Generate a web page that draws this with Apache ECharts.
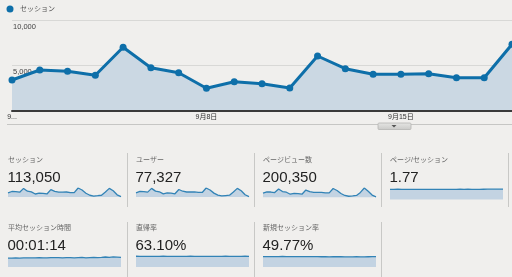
<!DOCTYPE html>
<html><head><meta charset="utf-8">
<script src="https://cdn.jsdelivr.net/npm/echarts@6/dist/echarts.min.js"></script>
<style>html,body{margin:0;padding:0;background:#f0efed;}#c{width:512px;height:277px;}</style>
</head><body><div id="c"></div>
<script>
// ---- data ----
const dates = ['9月1日','9月2日','9月3日','9月4日','9月5日','9月6日','9月7日','9月8日','9月9日','9月10日',
  '9月11日','9月12日','9月13日','9月14日','9月15日','9月16日','9月17日','9月18日','9月19日'];
const sessions = [3370,4475,4331,3890,6983,4729,4177,2453,3182,2961,2486,6022,4619,4000,4000,4066,3624,3624,7315];
const yTicks = [0, 5000, 10000];
const xTickIdx = [0, 7, 14];
const xTickText = ['9...', '9月8日', '9月15日'];
const legendName = 'セッション';

const metricNames = ['セッション','ユーザー','ページビュー数','ページ/セッション','平均セッション時間','直帰率','新規セッション率'];
const metricValues = ['113,050','77,327','200,350','1.77','00:01:14','63.10%','49.77%'];

const sparkSessions = [3370,4475,4331,3890,6983,4729,4177,2453,3182,2961,2486,6022,4619,4000,4000,4066,3624,3624,7315,5700,3100,1450,800,1100,1450,4050,7000,5050,1800,300];
const sparkUsers = [2350,3100,3000,2700,4800,3250,2900,1750,2250,2100,1780,4150,3200,2780,2780,2820,2520,2520,5000,3900,2150,1000,560,780,1000,2780,4800,3450,1250,220];
const sparkPageviews = [6050,8000,7750,6950,12400,8450,7450,4450,5700,5300,4500,10700,8250,7150,7150,7300,6500,6500,13000,10100,5500,2550,1400,1950,2550,7150,13800,8950,3200,550];
const sparkPagesPerSession = [1.76,1.77,1.78,1.77,1.76,1.77,1.76,1.75,1.76,1.77,1.76,1.77,1.76,1.75,1.76,1.77,1.76,1.77,1.78,1.77,1.78,1.77,1.76,1.77,1.78,1.79,1.80,1.79,1.80,1.82];
const sparkDuration = [70,71,72,71,72,73,72,73,74,73,72,74,75,74,73,75,74,72,74,76,73,75,77,74,76,79,76,80,78,76];
const sparkBounce = [63.5,63.2,62.8,63.0,62.5,63.4,63.1,63.6,63.3,63.0,62.8,62.6,63.2,63.0,63.5,63.3,63.0,62.7,62.4,63.0,63.2,63.1,63.4,63.6,63.0,63.2,63.4,63.3,63.6,63.2];
const sparkNewSessions = [50.3,50.0,49.8,50.1,50.5,50.7,50.4,49.7,50.2,50.6,50.3,50.0,49.8,49.9,49.7,49.6,49.5,49.4,49.6,49.8,49.5,49.3,49.2,49.4,49.5,49.3,49.2,49.5,49.8,50.0];
const sparkMin = [-2000, -1400, -3500, 0, 0, 0, 0];
const sparkMax = [7315, 5000, 13800, 2.0, 95, 71, 58];

// ---- layout ----
const sparks = [sparkSessions, sparkUsers, sparkPageviews, sparkPagesPerSession, sparkDuration, sparkBounce, sparkNewSessions];
const colX = [8, 136, 263, 390];
const rowTitleY = [160, 228.5];
const rowValueY = [177.7, 245.7];
const rowSparkTop = [188, 255];
const rowSparkH = [11.5, 12];
const FONT = '"Liberation Sans", Arial, "Noto Sans CJK JP", sans-serif';
const LINE = '#0e6fa9';

const chart = echarts.init(document.getElementById('c'), null, {renderer: 'canvas'});

const grids = [{left: 12, right: -4, top: 20, height: 90.5}];
const xAxes = [{
  type: 'category', data: dates, boundaryGap: false, gridIndex: 0, z: 5,
  axisLine: {lineStyle: {color: '#3a3a3a', width: 2}},
  axisTick: {show: false},
  axisLabel: {
    interval: function (i) { return xTickIdx.indexOf(i) >= 0; },
    formatter: function (v, i) { const k = xTickIdx.indexOf(i); return k >= 0 ? xTickText[k] : ''; },
    color: '#333', fontSize: 7, fontFamily: FONT, margin: 3
  }
}];
const yAxes = [{
  type: 'value', gridIndex: 0, min: yTicks[0], max: yTicks[yTicks.length - 1], interval: yTicks[1] - yTicks[0],
  axisLine: {show: false}, axisTick: {show: false},
  splitLine: {lineStyle: {color: '#d8d8d6', width: 1}},
  axisLabel: {
    inside: true, margin: 1, showMinLabel: false, verticalAlign: 'top', lineHeight: 13,
    color: '#444', fontSize: 7.5, fontFamily: FONT,
    formatter: function (v) { return String(v).replace(/\B(?=(\d{3})+(?!\d))/g, ','); }
  }
}];
const series = [{
  type: 'line', xAxisIndex: 0, yAxisIndex: 0, data: sessions, name: legendName,
  symbol: 'circle', symbolSize: 7, showAllSymbol: true,
  lineStyle: {color: LINE, width: 3}, itemStyle: {color: LINE},
  areaStyle: {color: '#cbd8e3', opacity: 1}, z: 2
}];

const graphics = [
  {type: 'circle', shape: {cx: 10, cy: 9, r: 3.5}, style: {fill: LINE}},
  {type: 'text', style: {text: legendName, x: 20, y: 9, fill: '#555', fontSize: 7, fontFamily: FONT, verticalAlign: 'middle', textVerticalAlign: 'middle'}},
  {type: 'line', shape: {x1: 7, y1: 124.5, x2: 512, y2: 124.5}, style: {stroke: '#c6c6c4', lineWidth: 1}},
  {type: 'rect', shape: {x: 378, y: 123, width: 33, height: 6.5, r: 1},
    style: {fill: new echarts.graphic.LinearGradient(0, 0, 0, 1, [{offset: 0, color: '#e6e6e4'}, {offset: 1, color: '#c9c9c7'}]), stroke: '#b5b5b3', lineWidth: 0.8}},
  {type: 'polygon', shape: {points: [[391.5, 125], [396.5, 125], [394, 127.5]]}, style: {fill: '#555'}}
];

// dividers
[127.5, 254.5, 381.5, 508.5].forEach(function (x) {
  graphics.push({type: 'line', shape: {x1: x, y1: 153, x2: x, y2: 207}, style: {stroke: '#c8c8c6', lineWidth: 1}});
});
[127.5, 254.5, 381.5].forEach(function (x) {
  graphics.push({type: 'line', shape: {x1: x, y1: 222, x2: x, y2: 277}, style: {stroke: '#c8c8c6', lineWidth: 1}});
});

metricNames.forEach(function (name, i) {
  const row = i < 4 ? 0 : 1;
  const col = i < 4 ? i : i - 4;
  const x = colX[col];
  graphics.push({type: 'text', style: {text: name, x: x, y: rowTitleY[row], fill: '#666', fontSize: 7, fontFamily: FONT, verticalAlign: 'middle', textVerticalAlign: 'middle'}});
  graphics.push({type: 'text', style: {text: metricValues[i], x: x - 0.5, y: rowValueY[row], fill: '#222', fontSize: 15, fontFamily: FONT, verticalAlign: 'middle', textVerticalAlign: 'middle'}});
  const gi = i + 1;
  grids.push({left: x, width: 113, top: rowSparkTop[row], height: rowSparkH[row]});
  xAxes.push({type: 'category', gridIndex: gi, show: false, boundaryGap: false, data: sparks[i].map(function (_, k) { return k; })});
  yAxes.push({type: 'value', gridIndex: gi, show: false, min: sparkMin[i], max: sparkMax[i], splitLine: {show: false}});
  series.push({
    type: 'line', xAxisIndex: gi, yAxisIndex: gi, data: sparks[i], symbol: 'none',
    lineStyle: {color: '#3283b6', width: 1.3}, areaStyle: {color: '#c3d3e2', opacity: 1}
  });
});

chart.setOption({
  backgroundColor: '#f0efed',
  animation: false,
  grid: grids, xAxis: xAxes, yAxis: yAxes, series: series, graphic: graphics
});
</script></body></html>
